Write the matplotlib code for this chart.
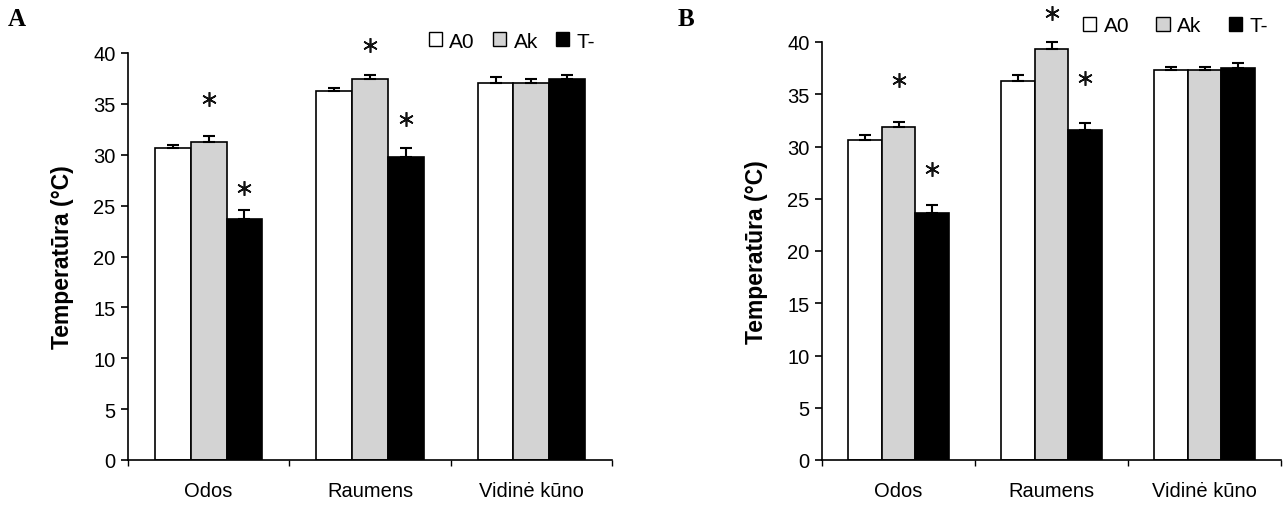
import matplotlib
matplotlib.use("Agg")
import matplotlib.pyplot as plt
from matplotlib.patches import Patch
import numpy as np

plt.rcParams['font.family'] = ['Liberation Sans', 'DejaVu Sans']

categories = ['Odos', 'Raumens', 'Vidinė kūno']
series = ['A0', 'Ak', 'T-']
colors = ['white', '#d3d3d3', 'black']

# panel A
a_vals = [[30.7, 36.3, 37.1],
          [31.3, 37.4, 37.1],
          [23.7, 29.8, 37.4]]
a_err = [[0.3, 0.3, 0.5],
         [0.5, 0.45, 0.3],
         [0.9, 0.9, 0.45]]
# stars: (group, series, y)
a_stars = [(0, 1, 35.5), (0, 2, 26.7), (1, 1, 40.8), (1, 2, 33.5)]

# panel B
b_vals = [[30.6, 36.3, 37.3],
          [31.9, 39.3, 37.3],
          [23.6, 31.6, 37.5]]
b_err = [[0.5, 0.5, 0.3],
         [0.45, 0.7, 0.3],
         [0.8, 0.65, 0.45]]
b_stars = [(0, 1, 36.4), (0, 2, 27.8), (1, 1, 42.8), (1, 2, 36.6)]

fig = plt.figure(figsize=(12.86, 5.06), dpi=100)
W, H = 1286, 506

def panel(rect, vals, errs, stars, letter, letter_xy, leg_anchor, colsp):
    ax = fig.add_axes(rect)
    x = np.arange(len(categories))
    w = 0.222
    for i in range(3):
        ax.bar(x + (i - 1) * w, vals[i], w, color=colors[i], edgecolor='black',
               linewidth=1.2, zorder=2)
        ax.errorbar(x + (i - 1) * w, vals[i], yerr=[np.zeros(3), errs[i]],
                    fmt='none', ecolor='black', elinewidth=1.5, capsize=4.5,
                    capthick=1.5, zorder=3, clip_on=False)
    sx = [g + (s - 1) * w for g, s, y in stars]
    sy = [y for g, s, y in stars]
    ax.plot(sx, sy, linestyle='none', marker=(6, 2, 0), markersize=10.5,
            markeredgewidth=1.2, color='#111111', clip_on=False)
    ax.set_xlim(-0.5, 2.5)
    ax.set_ylim(0, 40)
    ax.set_yticks(range(0, 41, 5))
    ax.spines['top'].set_visible(False)
    ax.spines['right'].set_visible(False)
    ax.spines['left'].set_linewidth(1.2)
    ax.spines['bottom'].set_linewidth(1.2)
    ax.set_xticks(x, categories)
    ax.set_xticks([-0.5, 0.5, 1.5, 2.5], minor=True)
    ax.tick_params(axis='x', which='major', length=0, pad=15, labelsize=14.5)
    ax.tick_params(axis='x', which='minor', length=4, width=1)
    ax.tick_params(axis='y', length=5, width=1.2, labelsize=14.5, pad=4)
    ax.set_ylabel('Temperatūra (°C)', fontsize=16.5, fontweight='bold', labelpad=14)
    fig.text(letter_xy[0] / W, 1 - letter_xy[1] / H, letter,
             family='Liberation Serif', fontweight='bold', fontsize=18,
             ha='left', va='center')
    handles = [Patch(facecolor=c, edgecolor='black', linewidth=1) for c in colors]
    fig.legend(handles, series, loc='center right', ncol=3, frameon=False,
               bbox_to_anchor=(leg_anchor[0] / W, 1 - leg_anchor[1] / H),
               fontsize=15, handlelength=0.65, handleheight=0.65,
               handletextpad=0.35, columnspacing=colsp, borderpad=0,
               borderaxespad=0)
    return ax

panel([128 / W, 45 / H, 484 / W, 407 / H], a_vals, a_err, a_stars,
      'A', (8, 20), (595, 42), 0.85)
panel([822 / W, 45 / H, 459 / W, 418 / H], b_vals, b_err, b_stars,
      'B', (678, 20), (1268, 27), 1.3)

fig.savefig('out.png', dpi=100)
